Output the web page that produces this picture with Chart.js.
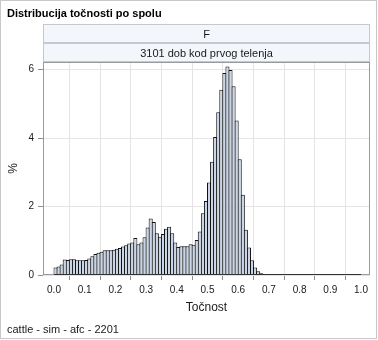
<!DOCTYPE html>
<html>
<head>
<meta charset="utf-8">
<script src="https://cdn.jsdelivr.net/npm/chart.js@4/dist/chart.umd.min.js"></script>
<style>
  html, body { margin: 0; padding: 0; background: #ffffff; }
  canvas { display: block; }
</style>
</head>
<body>
<canvas id="hist" width="378" height="340"></canvas>
<script>
// Texts
const chartTitle = 'Distribucija točnosti po spolu';
const panelRows = ['F', '3101 dob kod prvog telenja'];
const xAxisTitle = 'Točnost';
const yAxisTitle = '%';
const footnote = 'cattle - sim - afc - 2201';

// Histogram bins: 100 bins of width 0.01 starting at 0
const binStart = 0;
const binWidth = 0.01;

// Percent of animals per bin
const percent = [
  0.22, 0.25, 0.31, 0.45, 0.44, 0.46, 0.46, 0.43, 0.43, 0.43,  // 0.00 - 0.09
  0.44, 0.48, 0.55, 0.61, 0.65, 0.68, 0.72, 0.72, 0.72, 0.74,  // 0.10 - 0.19
  0.77, 0.79, 0.83, 0.87, 0.92, 0.95, 1.08, 0.90, 0.95, 1.10,  // 0.20 - 0.29
  1.39, 1.65, 1.55, 1.22, 1.12, 1.20, 1.35, 1.41, 1.22, 0.95,  // 0.30 - 0.39
  0.82, 0.84, 0.84, 0.84, 0.90, 0.88, 1.02, 1.27, 1.80, 2.16,  // 0.40 - 0.49
  2.70, 3.31, 4.03, 4.75, 5.41, 5.90, 6.09, 5.99, 5.51, 4.51,  // 0.50 - 0.59
  3.38, 2.34, 1.32, 0.80, 0.43, 0.22, 0.11, 0.05, 0.02, 0.01,  // 0.60 - 0.69
  0, 0, 0, 0, 0, 0, 0, 0, 0, 0,                                // 0.70 - 0.79
  0, 0, 0, 0, 0, 0, 0, 0, 0, 0,                                // 0.80 - 0.89
  0, 0, 0, 0, 0, 0, 0, 0, 0, 0                                 // 0.90 - 0.99
];

// Axis ticks and ranges
const xTicks = [0.0, 0.1, 0.2, 0.3, 0.4, 0.5, 0.6, 0.7, 0.8, 0.9, 1.0];
const yTicks = [0, 2, 4, 6];
const xRange = [-0.0358, 1.0293];
const yRange = [0, 6.22];

const binMid = percent.map((_, i) => +(binStart + binWidth * (i + 0.5)).toFixed(4));
const binEnd = binStart + binWidth * percent.length;

const FONT = '"Liberation Sans", Arial, Helvetica, sans-serif';
const TEXT = '#1a1a1a';

// Title, panel headers, frame, footnote and axis titles
const decor = {
  id: 'decor',
  beforeDraw(chart) {
    const { ctx, chartArea: a } = chart;
    ctx.save();
    ctx.fillStyle = '#ffffff';
    ctx.fillRect(0, 0, chart.width, chart.height);

    ctx.strokeStyle = '#c8c8c8';
    ctx.lineWidth = 1;
    ctx.strokeRect(0.5, 0.5, chart.width - 2, chart.height - 2);

    ctx.fillStyle = '#000000';
    ctx.font = 'bold 11px ' + FONT;
    ctx.textAlign = 'left';
    ctx.textBaseline = 'alphabetic';
    ctx.fillText(chartTitle, 7, 17);

    const rowH = 19;
    panelRows.forEach((t, i) => {
      const y0 = a.top - rowH * (panelRows.length - i) - 0;
      ctx.fillStyle = '#f3f6fb';
      ctx.fillRect(a.left, y0, a.right - a.left, rowH - 1);
      ctx.strokeStyle = '#c4c8cf';
      ctx.strokeRect(a.left + 0.5, y0 + 0.5, a.right - a.left - 1, rowH - 1);
      ctx.fillStyle = TEXT;
      ctx.font = '11px ' + FONT;
      ctx.textAlign = 'center';
      ctx.fillText(t, (a.left + a.right) / 2, y0 + 13.5);
    });

    ctx.fillStyle = TEXT;
    ctx.font = '11px ' + FONT;
    ctx.textAlign = 'left';
    ctx.fillText(footnote, 7, 333);
    ctx.restore();
  },
  afterDatasetsDraw(chart) {
    const { ctx, chartArea: a, scales } = chart;
    ctx.save();
    ctx.strokeStyle = '#9a9a9a';
    ctx.lineWidth = 1;
    ctx.strokeRect(a.left + 0.5, a.top + 0.5, a.right - a.left - 1, a.bottom - a.top - 1);

    // bin outline along the baseline
    const y0 = Math.round(scales.y.getPixelForValue(0)) - 0.5;
    ctx.strokeStyle = '#333333';
    ctx.beginPath();
    ctx.moveTo(scales.x.getPixelForValue(binStart), y0);
    ctx.lineTo(scales.x.getPixelForValue(binEnd), y0);
    ctx.stroke();
    ctx.restore();
  },
  afterDraw(chart) {
    const { ctx, chartArea: a } = chart;
    ctx.save();
    ctx.fillStyle = TEXT;
    ctx.font = '12px ' + FONT;
    ctx.textAlign = 'center';
    ctx.textBaseline = 'alphabetic';
    ctx.fillText(xAxisTitle, (a.left + a.right) / 2, 310.5);

    ctx.translate(17, (a.top + a.bottom) / 2);
    ctx.rotate(-Math.PI / 2);
    ctx.fillText(yAxisTitle, 0, 0);
    ctx.restore();
  }
};

new Chart(document.getElementById('hist'), {
  type: 'bar',
  data: {
    datasets: [{
      data: binMid.map((x, i) => ({ x: x, y: percent[i] })),
      backgroundColor: '#cad5e5',
      borderColor: '#111111',
      borderWidth: 1,
      borderSkipped: 'start',
      barPercentage: 1.326,
      categoryPercentage: 1,
      inflateAmount: 0
    }]
  },
  options: {
    responsive: false,
    animation: false,
    devicePixelRatio: 1,
    layout: { padding: { left: 0, right: 8, top: 62, bottom: 40 } },
    plugins: {
      legend: { display: false },
      tooltip: { enabled: false },
      title: { display: false }
    },
    scales: {
      x: {
        type: 'linear',
        min: xRange[0],
        max: xRange[1],
        offset: false,
        afterBuildTicks: s => { s.ticks = xTicks.map(v => ({ value: v })); },
        afterFit: s => { s.height = 25; },
        grid: { color: '#e4e4e4', tickColor: '#8f8f8f', tickLength: 5, drawTicks: true },
        border: { display: false },
        ticks: {
          autoSkip: false, maxRotation: 0, padding: 4,
          color: TEXT, font: { family: FONT, size: 10 },
          callback: v => Number(v).toFixed(1)
        }
      },
      y: {
        type: 'linear',
        min: yRange[0],
        max: yRange[1],
        afterBuildTicks: s => { s.ticks = yTicks.map(v => ({ value: v })); },
        afterFit: s => { s.width = 43; },
        grid: { color: '#e4e4e4', tickColor: '#8f8f8f', tickLength: 5, drawTicks: true },
        border: { display: false },
        ticks: {
          padding: 4,
          color: TEXT, font: { family: FONT, size: 10 },
          callback: v => String(v)
        }
      }
    }
  },
  plugins: [decor]
});
</script>
</body>
</html>
